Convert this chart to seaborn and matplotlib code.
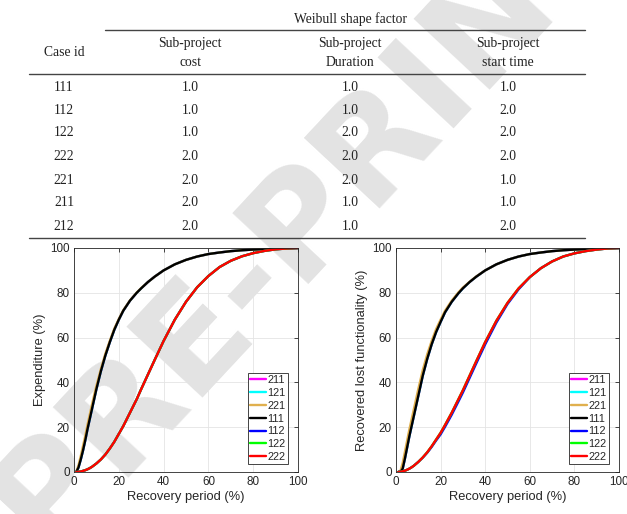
import numpy as np
import pandas as pd
import matplotlib
matplotlib.use("Agg")
import matplotlib.pyplot as plt
from matplotlib.lines import Line2D
import seaborn as sns

# ---------------- data ----------------
recovery_period = [1, 2, 3, 4, 5, 6, 7, 8, 10, 12, 14, 16, 18, 20, 22, 25, 28, 30,
                   33, 36, 40, 45, 50, 55, 60, 65, 70, 75, 80, 85, 90, 95, 100]

cases = ["211", "121", "221", "111", "112", "122", "222"]
case_colors = ["#ff00ff", "#00ffff", "#e0b04e", "#000000", "#0000ff", "#00ff00", "#ff0000"]

# Expenditure (%)
exp_111 = [0, 2, 5.5, 9.5, 14, 19, 23.5, 28, 37, 45, 52, 58, 63.5, 68, 72, 76.5, 80, 82,
           84.8, 87.2, 90, 92.7, 94.7, 96.2, 97.3, 98, 98.6, 99, 99.3, 99.5, 99.7, 99.9, 100]
exp_211 = list(exp_111)
exp_121 = list(exp_111)
exp_221 = [0, 3, 7, 11.5, 16, 21, 25.5, 30, 38.5, 46, 52.8, 58.6, 64, 68.3, 72.2, 76.6, 80.1, 82.1,
           84.8, 87.2, 90, 92.7, 94.7, 96.2, 97.3, 98, 98.6, 99, 99.3, 99.5, 99.7, 99.9, 100]
exp_222 = [0, 0.1, 0.2, 0.5, 0.8, 1.2, 1.7, 2.3, 3.8, 5.6, 7.8, 10.5, 13.5, 17, 20.5, 26.5, 32.5, 37,
           43.5, 50, 58.5, 68, 76, 82.5, 87.5, 91.5, 94.3, 96.3, 97.7, 98.7, 99.4, 99.8, 100]
exp_112 = list(exp_222)
exp_122 = list(exp_222)

# Recovered lost functionality (%)
fun_111 = [0, 0, 1.5, 6, 11, 16, 20.5, 25, 34, 43, 50.5, 57, 62.5, 67, 71.3, 76, 79.8, 82,
           84.8, 87.2, 90, 92.7, 94.7, 96.2, 97.3, 98, 98.6, 99, 99.3, 99.5, 99.7, 99.9, 100]
fun_211 = list(fun_111)
fun_121 = list(fun_111)
fun_221 = [0, 0.5, 4, 9, 14, 19, 23.5, 28, 37, 45.5, 52.5, 58.5, 63.8, 68, 72, 76.5, 80.2, 82.3,
           84.9, 87.3, 90, 92.7, 94.7, 96.2, 97.3, 98, 98.6, 99, 99.3, 99.5, 99.7, 99.9, 100]
fun_222 = [0, 0.1, 0.3, 0.6, 1, 1.5, 2.1, 2.8, 4.5, 6.5, 8.8, 11.5, 14.5, 17.5, 21, 26.5, 32.5, 36.5,
           43, 49.5, 58, 67.5, 75.5, 82, 87, 91, 94, 96.2, 97.6, 98.6, 99.3, 99.8, 100]
fun_112 = [0, 0.1, 0.3, 0.6, 1, 1.5, 2.1, 2.8, 4.5, 6.4, 8.6, 11.2, 14.1, 16.8, 20.2, 25.6, 31.5, 35.5,
           42, 48.5, 57, 66.7, 75, 81.6, 87, 91, 94, 96.2, 97.6, 98.6, 99.3, 99.8, 100]
fun_122 = list(fun_222)

# Table
table_case_ids = ["111", "112", "122", "222", "221", "211", "212"]
table_cost = ["1.0", "1.0", "1.0", "2.0", "2.0", "2.0", "2.0"]
table_duration = ["1.0", "1.0", "2.0", "2.0", "2.0", "1.0", "1.0"]
table_start = ["1.0", "2.0", "2.0", "2.0", "1.0", "1.0", "2.0"]

exp_series = {"211": exp_211, "121": exp_121, "221": exp_221, "111": exp_111,
              "112": exp_112, "122": exp_122, "222": exp_222}
fun_series = {"211": fun_211, "121": fun_121, "221": fun_221, "111": fun_111,
              "112": fun_112, "122": fun_122, "222": fun_222}


def long_df(series):
    frames = []
    for c in cases:
        frames.append(pd.DataFrame({"x": recovery_period, "y": series[c], "case": c}))
    return pd.concat(frames, ignore_index=True)


df_exp = long_df(exp_series)
df_fun = long_df(fun_series)

# ---------------- figure ----------------
sns.set_style("white")
plt.rcParams["font.family"] = ["Liberation Sans", "DejaVu Sans"]

W, H = 627, 514
fig = plt.figure(figsize=(W / 100, H / 100), dpi=100)
fig.patch.set_facecolor("white")


def fx(x):
    return x / W


def fy(y):
    return 1 - y / H


# watermark
fig.text(fx(305), fy(215), "PRE-PRINT", rotation=47, fontsize=102, fontweight="bold",
         color="#e3e3e3", ha="center", va="center", zorder=-5,
         family=["DejaVu Sans"])

# table
serif = ["Liberation Serif", "DejaVu Serif"]
tfs = 9.8
tcol = "#222222"
col_x = [64, 190, 350, 508]
fig.text(fx(350), fy(19), "Weibull shape factor", ha="center", va="center", fontsize=tfs, family=serif, color=tcol)
fig.text(fx(col_x[0]), fy(53), "Case id", ha="center", va="center", fontsize=tfs, family=serif, color=tcol)
heads = [("Sub-project", "cost"), ("Sub-project", "Duration"), ("Sub-project", "start time")]
for cx, (h1, h2) in zip(col_x[1:], heads):
    fig.text(fx(cx), fy(43), h1, ha="center", va="center", fontsize=tfs, family=serif, color=tcol)
    fig.text(fx(cx), fy(63), h2, ha="center", va="center", fontsize=tfs, family=serif, color=tcol)
row_y = [87, 110, 133, 157, 180, 203, 227]
for i, ry in enumerate(row_y):
    for cx, col in zip(col_x, [table_case_ids, table_cost, table_duration, table_start]):
        fig.text(fx(cx), fy(ry), col[i], ha="center", va="center", fontsize=tfs, family=serif, color=tcol)
for (x0, x1, yy) in [(105, 585, 30), (29, 585, 74), (29, 585, 238)]:
    fig.add_artist(Line2D([fx(x0), fx(x1)], [fy(yy), fy(yy)], transform=fig.transFigure,
                          color="#444444", lw=1.0))

# axes
ax_l = fig.add_axes([fx(74), fy(472), (298 - 74) / W, (472 - 248) / H])
ax_r = fig.add_axes([fx(396), fy(472), (619 - 396) / W, (472 - 248) / H])
palette = dict(zip(cases, case_colors))

for ax, df, ylabel in [(ax_l, df_exp, "Expenditure (%)"),
                       (ax_r, df_fun, "Recovered lost functionality (%)")]:
    ax.set_facecolor("none")
    sns.lineplot(data=df, x="x", y="y", hue="case", hue_order=cases, palette=palette,
                 estimator=None, sort=False, lw=1.7, ax=ax)
    ax.set_xlim(0, 100)
    ax.set_ylim(0, 100)
    ax.set_xticks([0, 20, 40, 60, 80, 100])
    ax.set_yticks([0, 20, 40, 60, 80, 100])
    ax.grid(True, color="#e4e4e4", lw=0.6)
    ax.set_axisbelow(True)
    for s in ax.spines.values():
        s.set_visible(True)
        s.set_color("#262626")
        s.set_linewidth(0.6)
    ax.tick_params(direction="in", length=3, width=0.6, colors="#262626", labelsize=8.4,
                   top=True, right=True, pad=3)
    ax.set_xlabel("Recovery period (%)", fontsize=9.3, color="#262626", labelpad=2)
    ax.set_ylabel(ylabel, fontsize=9.3, color="#262626", labelpad=3)
    leg = ax.legend(loc="lower right", bbox_to_anchor=(0.955, 0.035), fontsize=7.8,
                    handlelength=1.45, handletextpad=0.15, labelspacing=0.26, borderpad=0.2,
                    borderaxespad=0, frameon=True, fancybox=False, framealpha=1)
    leg.get_frame().set_edgecolor("#262626")
    leg.get_frame().set_linewidth(0.6)
    for t in leg.get_texts():
        t.set_color("#262626")

fig.savefig("out.png", dpi=100)
